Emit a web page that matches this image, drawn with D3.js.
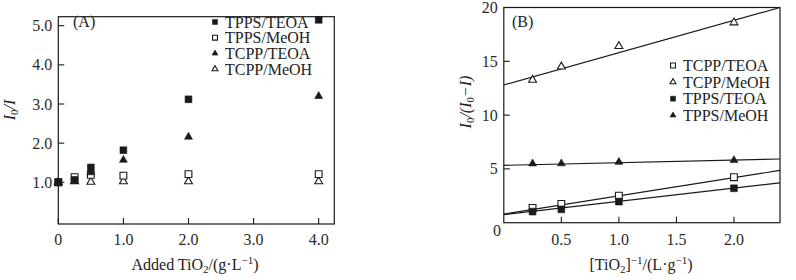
<!DOCTYPE html>
<html>
<head>
<meta charset="utf-8">
<script src="https://cdn.jsdelivr.net/npm/d3@7"></script>
<style>
  html, body { margin: 0; padding: 0; background: #fff; }
  svg { display: block; font-family: "Liberation Serif", "Times New Roman", serif; }
  .tk { font-size: 16px; fill: #2a2a2a; }
  .lg { font-size: 16px; fill: #222; }
</style>
</head>
<body>
<svg id="chart" width="796" height="280"></svg>
<script>
// ---- panel A data ----
const doseA = [0, 0.25, 0.5, 1.0, 2.0, 4.0];
const tppsTeoaA = [1.0, 1.06, 1.38, 1.82, 3.12, 5.15];
const tppsMeohA = [1.0, 1.13, 1.19, 1.17, 1.21, 1.21];
const tcppTeoaA = [1.0, 1.04, 1.25, 1.57, 2.16, 3.2];
const tcppMeohA = [1.0, 1.02, 1.01, 1.02, 1.02, 1.02];
const ticksXA = [0, 1, 2, 3, 4];
const ticksYA = [1, 2, 3, 4, 5];

// ---- panel B data ----
const invB = [0.25, 0.5, 1.0, 2.0];
const tcppTeoaB = [1.37, 1.75, 2.52, 4.23];
const tcppMeohB = [13.27, 14.5, 16.4, 18.6];
const tppsTeoaB = [1.03, 1.24, 1.96, 3.2];
const tppsMeohB = [5.49, 5.5, 5.64, 5.8];
// fitted lines: value at x=0 and at x=2.4
const lineXB = [0, 2.4];
const tcppTeoaFit = [0.8, 4.86];
const tcppMeohFit = [12.8, 20.0];
const tppsTeoaFit = [0.75, 3.71];
const tppsMeohFit = [5.33, 5.92];
const ticksXB = [0.5, 1.0, 1.5, 2.0];
const ticksYB = [5, 10, 15, 20];

const svg = d3.select("#chart");
const INK = "#1a1a1a";

function marker(g, kind, x, y, big) {
  const filled = kind === "fs" || kind === "ft";
  const isSq = kind === "fs" || kind === "os";
  const size = isSq ? (big ? 46 : 24) : (big ? 27 : 15);
  g.append("path")
    .attr("d", d3.symbol(isSq ? d3.symbolSquare : d3.symbolTriangle, size)())
    .attr("transform", `translate(${x},${y})`)
    .attr("fill", filled ? INK : "#fff")
    .attr("stroke", INK).attr("stroke-width", filled ? 0.6 : 1.1);
}

function frame(g, x, y) {
  const [x0, x1] = x.range(), [y0, y1] = y.range();
  g.append("rect").attr("x", x0).attr("y", y1).attr("width", x1 - x0).attr("height", y0 - y1)
    .attr("fill", "none").attr("stroke", INK).attr("stroke-width", 1.2);
}

function inTicks(g, x, y, xt, yt, fmtX, fmtY) {
  const [y0] = y.range(), [x0] = x.range();
  xt.forEach(v => {
    g.append("line").attr("x1", x(v)).attr("x2", x(v)).attr("y1", y0).attr("y2", y0 - 6)
      .attr("stroke", INK).attr("stroke-width", 1.1);
    g.append("text").attr("class", "tk").attr("x", x(v)).attr("y", 245)
      .attr("text-anchor", "middle").text(fmtX(v));
  });
  yt.forEach(v => {
    g.append("line").attr("x1", x0).attr("x2", x0 + 6).attr("y1", y(v)).attr("y2", y(v))
      .attr("stroke", INK).attr("stroke-width", 1.1);
    g.append("text").attr("class", "tk").attr("x", x0 - 6).attr("y", y(v) + 5.5)
      .attr("text-anchor", "end").text(fmtY(v));
  });
}

// ================= Panel A =================
const xA = d3.scaleLinear().domain([0, 4.24]).range([58.3, 334.3]);
const yA = d3.scaleLinear().domain([-0.065, 5.23]).range([224, 16.7]);
const gA = svg.append("g");
frame(gA, xA, yA);
inTicks(gA, xA, yA, ticksXA, ticksYA, v => v === 0 ? "0" : d3.format(".1f")(v), d3.format(".1f"));

const seriesA = [
  { k: "ot", v: tcppMeohA }, { k: "os", v: tppsMeohA },
  { k: "ft", v: tcppTeoaA }, { k: "fs", v: tppsTeoaA }
];
seriesA.forEach(s => doseA.forEach((d, i) => marker(gA, s.k, xA(d), yA(s.v[i]), true)));

gA.append("text").attr("class", "lg").attr("x", 73).attr("y", 27).text("(A)");
const legA = [["fs", "TPPS/TEOA"], ["os", "TPPS/MeOH"], ["ft", "TCPP/TEOA"], ["ot", "TCPP/MeOH"]];
legA.forEach((l, i) => {
  const cy = 22 + i * 15.7;
  marker(gA, l[0], 215, cy, false);
  gA.append("text").attr("class", "lg").attr("x", 225).attr("y", cy + 5.5).text(l[1]);
});

const xlA = gA.append("text").attr("class", "lg").attr("x", 195).attr("y", 270).attr("text-anchor", "middle");
xlA.append("tspan").text("Added TiO");
xlA.append("tspan").attr("font-size", 11).attr("dy", 3).text("2");
xlA.append("tspan").attr("dy", -3).text("/(g·L");
xlA.append("tspan").attr("font-size", 11).attr("dy", -6).text("−1");
xlA.append("tspan").attr("dy", 6).text(")");

const ylA = gA.append("text").attr("class", "lg").attr("transform", "translate(15,110) rotate(-90)")
  .attr("text-anchor", "middle").attr("font-style", "italic");
ylA.append("tspan").text("I");
ylA.append("tspan").attr("font-size", 11).attr("dy", 3).attr("font-style", "normal").text("0");
ylA.append("tspan").attr("dy", -3).text("/I");

// ================= Panel B =================
const xB = d3.scaleLinear().domain([0, 2.4]).range([503.8, 780]);
const yB = d3.scaleLinear().domain([0, 20]).range([222.7, 7.5]);
const gB = svg.append("g");

const lineB = d3.line().x(d => xB(d[0])).y(d => yB(d[1]));
[tcppTeoaFit, tcppMeohFit, tppsTeoaFit, tppsMeohFit].forEach(f => {
  gB.append("path").attr("d", lineB(lineXB.map((x, i) => [x, f[i]])))
    .attr("fill", "none").attr("stroke", INK).attr("stroke-width", 1.2);
});
frame(gB, xB, yB);
inTicks(gB, xB, yB, ticksXB, ticksYB, d3.format(".1f"), d3.format("d"));
gB.append("text").attr("class", "tk").attr("x", 497).attr("y", 236).attr("text-anchor", "middle").text("0");

const seriesB = [
  { k: "os", v: tcppTeoaB }, { k: "ot", v: tcppMeohB },
  { k: "fs", v: tppsTeoaB }, { k: "ft", v: tppsMeohB }
];
seriesB.forEach(s => invB.forEach((d, i) => marker(gB, s.k, xB(d), yB(s.v[i]), true)));

gB.append("text").attr("class", "lg").attr("x", 512).attr("y", 27).text("(B)");
const legB = [["os", "TCPP/TEOA"], ["ot", "TCPP/MeOH"], ["fs", "TPPS/TEOA"], ["ft", "TPPS/MeOH"]];
legB.forEach((l, i) => {
  const cy = 65.5 + i * 16.6;
  marker(gB, l[0], 673, cy, false);
  gB.append("text").attr("class", "lg").attr("x", 683).attr("y", cy + 5.5).text(l[1]);
});

const xlB = gB.append("text").attr("class", "lg").attr("x", 641).attr("y", 270).attr("text-anchor", "middle");
xlB.append("tspan").text("[TiO");
xlB.append("tspan").attr("font-size", 11).attr("dy", 3).text("2");
xlB.append("tspan").attr("dy", -3).text("]");
xlB.append("tspan").attr("font-size", 11).attr("dy", -6).text("−1");
xlB.append("tspan").attr("dy", 6).text("/(L·g");
xlB.append("tspan").attr("font-size", 11).attr("dy", -6).text("−1");
xlB.append("tspan").attr("dy", 6).text(")");

const ylB = gB.append("text").attr("class", "lg").attr("transform", "translate(471,102) rotate(-90)")
  .attr("text-anchor", "middle").attr("font-style", "italic");
ylB.append("tspan").text("I");
ylB.append("tspan").attr("font-size", 11).attr("dy", 3).attr("font-style", "normal").text("0");
ylB.append("tspan").attr("dy", -3).text("/(I");
ylB.append("tspan").attr("font-size", 11).attr("dy", 3).attr("font-style", "normal").text("0");
ylB.append("tspan").attr("dy", -3).text("−I)");
</script>
</body>
</html>
